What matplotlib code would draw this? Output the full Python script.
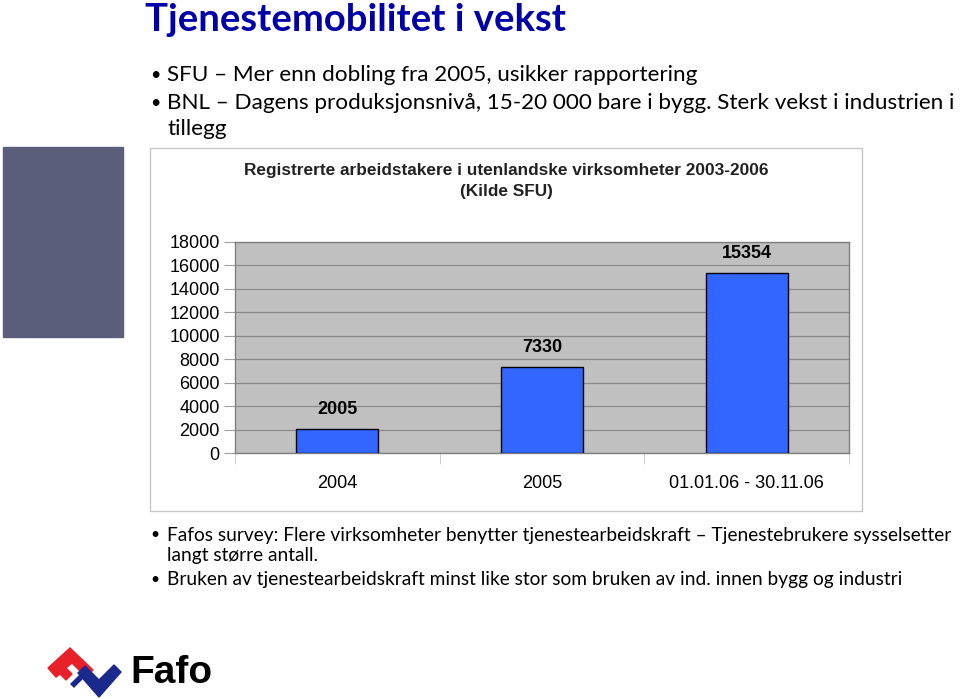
import matplotlib.pyplot as plt
from matplotlib.patches import Rectangle, Polygon

plt.rcParams['font.family'] = ['Liberation Sans', 'DejaVu Sans']

# Data
categories = ['2004', '2005', '01.01.06 - 30.11.06']
workers = [2005, 7330, 15354]
y_ticks = list(range(0, 18001, 2000))

title = 'Tjenestemobilitet i vekst'
bullets_top = ['SFU – Mer enn dobling fra 2005, usikker rapportering',
               'BNL – Dagens produksjonsnivå, 15-20 000 bare i bygg. Sterk vekst i industrien i',
               'tillegg']
bullets_bottom = ['Fafos survey: Flere virksomheter benytter tjenestearbeidskraft – Tjenestebrukere sysselsetter',
                  'langt større antall.',
                  'Bruken av tjenestearbeidskraft minst like stor som bruken av ind. innen bygg og industri']
chart_title = 'Registrerte arbeidstakere i utenlandske virksomheter 2003-2006\n(Kilde SFU)'

W, H = 960, 699
fig = plt.figure(figsize=(9.6, 6.99), dpi=100)

# background layer in pixel coordinates
bg = fig.add_axes([0, 0, 1, 1])
bg.set_xlim(0, W)
bg.set_ylim(H, 0)
bg.axis('off')

slide_font = ['Lato', 'DejaVu Sans']
bg.text(145, 20, title, fontsize=27.5, fontweight='bold', color='#0000A8',
        family=slide_font, va='center', ha='left')

# top bullets
for y, txt, dot in [(75, bullets_top[0], True), (103, bullets_top[1], True), (129, bullets_top[2], False)]:
    if dot:
        bg.text(150, y, '•', fontsize=13, va='center', ha='left', family=slide_font)
    bg.text(167, y, txt, fontsize=16.2, family=slide_font, va='center')

# dark block on the left
bg.add_patch(Rectangle((3, 147), 120, 190, color='#5A5E7A'))

# chart frame
bg.add_patch(Rectangle((150, 148), 712, 363, facecolor='white', edgecolor='#C8C8C8', lw=1))
bg.text(506, 181, chart_title, fontsize=12.4, fontweight='bold', ha='center', va='center',
        linespacing=1.5, color='#222222')

# bottom bullets
for y, txt, dot in [(535, bullets_bottom[0], True), (556, bullets_bottom[1], False), (580, bullets_bottom[2], True)]:
    if dot:
        bg.text(150, y, '•', fontsize=11.5, va='center', ha='left', family=slide_font)
    bg.text(167, y, txt, fontsize=13.8, family=slide_font, va='center')

# Fafo logo
red = [(48, 668), (70, 648), (93, 670), (86, 677), (72, 663), (66, 668), (72, 674), (66, 680), (60, 674), (56, 677)]
blue = [(78, 673), (85, 666), (99, 680), (114, 665), (121, 672), (99, 697)]
bg.add_patch(Polygon(red, closed=True, color='#E8202A'))
bg.add_patch(Polygon(blue, closed=True, color='#1A2A8C'))
bg.plot([72, 86], [686, 672], color='#1A2A8C', lw=4, solid_capstyle='butt')
bg.text(130, 673, 'Fafo', fontsize=28, fontweight='bold', va='center', ha='left', color='black')

# bar chart
ax = fig.add_axes([235 / W, 1 - 453 / H, 614 / W, (453 - 242) / H])
x = range(len(categories))
ax.bar(x, workers, width=0.4, color='#3366FF', edgecolor='black', linewidth=1, zorder=3)
for i, v in enumerate(workers):
    ax.annotate(str(v), xy=(i, v), xytext=(0, 20), textcoords='offset pixels',
                ha='center', va='center', fontsize=13, fontweight='bold')

ax.set_xlim(-0.5, 2.5)
ax.set_ylim(0, 18000)
ax.set_facecolor('#C0C0C0')
ax.set_yticks(y_ticks)
ax.set_yticklabels([str(t) for t in y_ticks])
ax.yaxis.grid(True, color='#8A8A8A', linewidth=0.9, zorder=0)
ax.set_axisbelow(True)
ax.set_xticks(list(x))
ax.set_xticklabels(categories)
ax.set_xticks([-0.5, 0.5, 1.5, 2.5], minor=True)
ax.tick_params(axis='x', which='major', length=0, pad=16, labelsize=13)
ax.tick_params(axis='x', which='minor', length=8, color='#C8C8C8')
ax.tick_params(axis='y', length=8, color='#A0A0A0', pad=3, labelsize=13)
for s in ax.spines.values():
    s.set_color('#808080')
    s.set_linewidth(1)

plt.savefig('out.png', dpi=100)
